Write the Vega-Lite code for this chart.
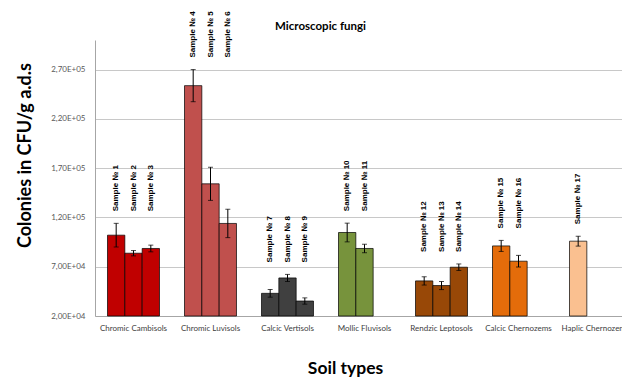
{
  "$schema": "https://vega.github.io/schema/vega-lite/v6.json",
  "autosize": "none",
  "width": 527,
  "height": 276,
  "padding": {"left": 95, "top": 40, "right": 0, "bottom": 63},
  "background": "white",
  "config": {
    "font": "Lato",
    "view": {"stroke": null},
    "axis": {"labelFont": "Lato", "titleFont": "Lato"}
  },
  "title": {
    "text": "Microscopic fungi",
    "fontSize": 11.5,
    "fontWeight": "bold",
    "color": "#000000",
    "anchor": "middle",
    "dx": -38,
    "offset": -21
  },
  "data": {
    "values": [
      {"soil": "Chromic Cambisols", "sample": 1, "slot": 1, "value": 102000, "err": 12000},
      {"soil": "Chromic Cambisols", "sample": 2, "slot": 2, "value": 83700, "err": 2700},
      {"soil": "Chromic Cambisols", "sample": 3, "slot": 3, "value": 88500, "err": 3400},
      {"soil": "Chromic Luvisols", "sample": 4, "slot": 1, "value": 253700, "err": 16300},
      {"soil": "Chromic Luvisols", "sample": 5, "slot": 2, "value": 154100, "err": 16800},
      {"soil": "Chromic Luvisols", "sample": 6, "slot": 3, "value": 113900, "err": 14400},
      {"soil": "Calcic Vertisols", "sample": 7, "slot": 1, "value": 43000, "err": 3900},
      {"soil": "Calcic Vertisols", "sample": 8, "slot": 2, "value": 58600, "err": 3600},
      {"soil": "Calcic Vertisols", "sample": 9, "slot": 3, "value": 35200, "err": 3200},
      {"soil": "Mollic Fluvisols", "sample": 10, "slot": 1, "value": 104700, "err": 9500},
      {"soil": "Mollic Fluvisols", "sample": 11, "slot": 2, "value": 88500, "err": 4300},
      {"soil": "Rendzic Leptosols", "sample": 12, "slot": 1, "value": 55600, "err": 4200},
      {"soil": "Rendzic Leptosols", "sample": 13, "slot": 2, "value": 50900, "err": 4100},
      {"soil": "Rendzic Leptosols", "sample": 14, "slot": 3, "value": 69500, "err": 3300},
      {"soil": "Calcic Chernozems", "sample": 15, "slot": 1, "value": 91100, "err": 5600},
      {"soil": "Calcic Chernozems", "sample": 16, "slot": 2, "value": 75600, "err": 5900},
      {"soil": "Haplic Chernozems", "sample": 17, "slot": 1, "value": 95900, "err": 5000}
    ]
  },
  "transform": [
    {"calculate": "datum.value - datum.err", "as": "lo"},
    {"calculate": "datum.value + datum.err", "as": "hi"},
    {"calculate": "'Sample № ' + datum.sample", "as": "label"},
    {"joinaggregate": [{"op": "max", "field": "hi", "as": "groupTop"}], "groupby": ["soil"]}
  ],
  "encoding": {
    "x": {
      "field": "soil",
      "type": "nominal",
      "sort": null,
      "scale": {
        "domain": ["Chromic Cambisols", "Chromic Luvisols", "Calcic Vertisols", "Mollic Fluvisols", "Rendzic Leptosols", "Calcic Chernozems", "Haplic Chernozems"],
        "range": [0, 539],
        "paddingInner": 0.325,
        "paddingOuter": 0.1625
      },
      "axis": {
        "title": "Soil types",
        "titleFontSize": 17.5,
        "titleFontWeight": "bold",
        "titleColor": "#000000",
        "titlePadding": 27,
        "titleX": 250,
        "labelAngle": 0,
        "labelFontSize": 8,
        "labelColor": "#404040",
        "labelPadding": 8,
        "ticks": false,
        "domainColor": "#a6a6a6",
        "grid": false
      }
    },
    "xOffset": {"field": "slot", "type": "ordinal", "scale": {"domain": [1, 2, 3], "paddingInner": 0, "paddingOuter": 0}}
  },
  "layer": [
    {
      "mark": {"type": "bar", "stroke": "#000000", "strokeOpacity": 0.7, "strokeWidth": 1},
      "encoding": {
        "y": {
          "field": "value",
          "type": "quantitative",
          "scale": {"domain": [20000, 300000], "nice": false, "zero": false},
          "axis": {
            "title": "Colonies in CFU/g a.d.s",
            "titleFontSize": 18,
            "titleFontWeight": "bold",
            "titleColor": "#000000",
            "titlePadding": 16,
            "titleY": 115,
            "values": [20000, 70000, 120000, 170000, 220000, 270000],
            "labelExpr": "replace(format(datum.value / pow(10, floor(log(datum.value) / LN10)), '.2f'), '.', ',') + 'E+0' + floor(log(datum.value) / LN10)",
            "labelFontSize": 8,
            "labelColor": "#595959",
            "labelPadding": 10,
            "ticks": false,
            "domainColor": "#a6a6a6",
            "grid": true,
            "gridColor": "#c8c8c8",
            "gridWidth": 1
          }
        },
        "y2": {"datum": 20000},
        "color": {
          "field": "soil",
          "type": "nominal",
          "legend": null,
          "scale": {
            "domain": ["Chromic Cambisols", "Chromic Luvisols", "Calcic Vertisols", "Mollic Fluvisols", "Rendzic Leptosols", "Calcic Chernozems", "Haplic Chernozems"],
            "range": ["#C00000", "#C0504D", "#404040", "#77933C", "#984807", "#E46C0A", "#FAC090"]
          }
        }
      }
    },
    {
      "mark": {"type": "rule", "color": "#000000", "strokeWidth": 1},
      "encoding": {
        "y": {"field": "lo", "type": "quantitative"},
        "y2": {"field": "hi"}
      }
    },
    {
      "mark": {"type": "tick", "color": "#000000", "size": 5, "thickness": 1, "orient": "horizontal"},
      "encoding": {"y": {"field": "lo", "type": "quantitative"}}
    },
    {
      "mark": {"type": "tick", "color": "#000000", "size": 5, "thickness": 1, "orient": "horizontal"},
      "encoding": {"y": {"field": "hi", "type": "quantitative"}}
    },
    {
      "mark": {"type": "text", "angle": 270, "align": "left", "baseline": "middle", "dx": 12, "fontSize": 8, "fontWeight": "bold", "font": "Liberation Sans", "color": "#000000"},
      "encoding": {
        "y": {"field": "groupTop", "type": "quantitative"},
        "text": {"field": "label"}
      }
    }
  ]
}
